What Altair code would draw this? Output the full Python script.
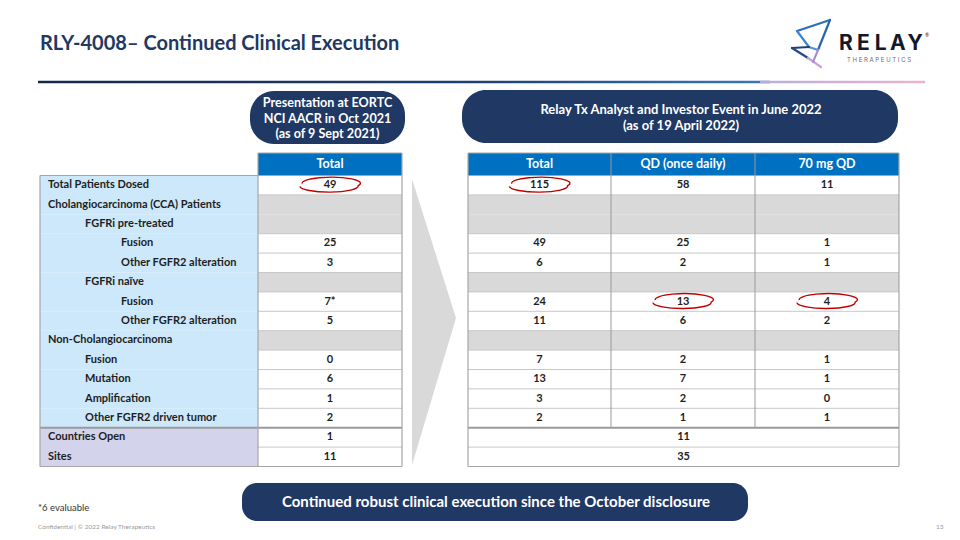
import altair as alt
import pandas as pd

# ---------------- data ----------------
title = "RLY-4008\u2013 Continued Clinical Execution"
row_labels = ["Total Patients Dosed", "Cholangiocarcinoma (CCA) Patients", "FGFRi pre-treated",
              "Fusion", "Other FGFR2 alteration", "FGFRi na\u00efve", "Fusion", "Other FGFR2 alteration",
              "Non-Cholangiocarcinoma", "Fusion", "Mutation", "Amplification",
              "Other FGFR2 driven tumor", "Countries Open", "Sites"]
row_indent = [0, 0, 1, 2, 2, 1, 2, 2, 0, 1, 1, 1, 1, 0, 0]
section_rows = [1, 2, 5, 8]
site_rows = [13, 14]
eortc_total = ["49", "", "", "25", "3", "", "7*", "5", "", "0", "6", "1", "2", "1", "11"]
june_total = ["115", "", "", "49", "6", "", "24", "11", "", "7", "13", "3", "2", "11", "35"]
june_qd = ["58", "", "", "25", "2", "", "13", "6", "", "2", "7", "2", "1", "", ""]
june_70mg = ["11", "", "", "1", "1", "", "4", "2", "", "1", "1", "0", "1", "", ""]
left_headers = ["Total"]
right_headers = ["Total", "QD (once daily)", "70 mg QD"]
left_pill = ["Presentation at EORTC", "NCI AACR in Oct 2021", "(as of 9 Sept 2021)"]
right_pill = ["Relay Tx Analyst and Investor Event in June 2022", "(as of 19 April 2022)"]
bottom_pill = "Continued robust clinical execution since the October disclosure"
highlight = [("left", 0, 0), ("right", 0, 0), ("right", 1, 6), ("right", 2, 6)]  # (table, col, row)
footnote = "*6 evaluable"
footer = "Confidential | \u00a9 2022 Relay Therapeutics"
page_no = "13"
logo_word = "RELAY"
logo_sub = "T H E R A P E U T I C S"

# ---------------- layout ----------------
FONT = "Lato"
NAVY = "#1F3864"
HEAD = "#0070C0"
GRID = "#C8C8C8"
BORDER = "#A6A6A6"
TXT = "#1E1E1E"

xs = alt.Scale(domain=[8, 952], nice=False, zero=False)
ys = alt.Scale(domain=[8, 532], nice=False, zero=False, reverse=True)

top0, rh = 175.5, 19.4
head_top = 153.0
n = len(row_labels)
bottom = top0 + n * rh
def rtop(i):
    return top0 + i * rh
def rmid(i):
    return top0 + i * rh + rh / 2

lab_x0, lab_x1 = 40, 258
lval_x1 = 402
r_edges = [468, 611, 755, 899]
indent_x = {0: 48, 1: 85, 2: 121}


def X(f="x"):
    return alt.X(f + ":Q", scale=xs, axis=None)


def Y(f="y"):
    return alt.Y(f + ":Q", scale=ys, axis=None)


def rects(rows, **mk):
    df = pd.DataFrame(rows, columns=["x", "x2", "y", "y2", "c"])
    return alt.Chart(df).mark_rect(**mk).encode(
        x=X(), x2="x2:Q", y=Y(), y2="y2:Q", fill=alt.Fill("c:N", scale=None))


def rules(rows, **mk):
    df = pd.DataFrame(rows, columns=["x", "x2", "y", "y2", "c", "w"])
    return alt.Chart(df).mark_rule(**mk).encode(
        x=X(), x2="x2:Q", y=Y(), y2="y2:Q", stroke=alt.Stroke("c:N", scale=None),
        strokeWidth=alt.StrokeWidth("w:Q", scale=None))


def texts(rows, **mk):
    df = pd.DataFrame(rows, columns=["x", "y", "t"])
    base = dict(font=FONT, baseline="middle")
    base.update(mk)
    return alt.Chart(df).mark_text(**base).encode(x=X(), y=Y(), text="t:N")


layers = []

# title + underline
layers.append(texts([(40, 44, title)], align="left", fontSize=20, fontWeight="bold", color=NAVY))
layers.append(alt.Chart(pd.DataFrame({"x": [38], "x2": [770], "y": [80.8], "y2": [83.2]})).mark_rect(
    fill=alt.Gradient(gradient="linear", x1=0, x2=1, y1=0, y2=0,
                      stops=[alt.GradientStop(color="#14284B", offset=0),
                             alt.GradientStop(color="#1F3F73", offset=0.6),
                             alt.GradientStop(color="#3C79B8", offset=1)])
).encode(x=X(), x2="x2:Q", y=Y(), y2="y2:Q"))
layers.append(alt.Chart(pd.DataFrame({"x": [760], "x2": [925], "y": [80.8], "y2": [83.2]})).mark_rect(
    fill=alt.Gradient(gradient="linear", x1=0, x2=1, y1=0, y2=0,
                      stops=[alt.GradientStop(color="#B9AEDB", offset=0),
                             alt.GradientStop(color="#EBB3CE", offset=1)])
).encode(x=X(), x2="x2:Q", y=Y(), y2="y2:Q"))

# logo
logo_segments = [
    (830, 797, 20, 31, "#2F6DB5", 2.2),
    (797, 809, 31, 47, "#3E84C9", 2.2),
    (830, 818, 20, 50, "#2A64AA", 2.2),
    (818, 809, 50, 47, "#5B8FD0", 2.2),
    (809, 792, 47, 48, "#1F3F7A", 2.2),
    (792, 808, 48, 58, "#26478A", 2.2),
    (808, 821, 58, 67, "#C7A3D8", 2.2),
    (818, 813, 50, 62, "#A88BD0", 2.0),
]
layers.append(rules(logo_segments, strokeCap="round"))
word = [(846 + 17.3 * k, 44, ch) for k, ch in enumerate(logo_word)]
layers.append(texts(word, align="center", fontSize=21, fontWeight="bold",
                    font="Inter", color="#15182A"))
layers.append(texts([(925, 35, "\u00ae")], align="left", fontSize=5, color="#15182A"))
layers.append(texts([(879, 59.5, logo_sub)], align="center", fontSize=6.0, font="Inter", color="#6A6A7A"))

# pills
pills = [(250, 405, 91, 144, NAVY), (462, 898, 90, 143, NAVY)]
layers.append(rects(pills, cornerRadius=24))
layers.append(rects([(242, 748, 483, 521, NAVY)], cornerRadius=15))
lp = [(327.5, 103 + 15.5 * i, t) for i, t in enumerate(left_pill)]
layers.append(texts(lp, align="center", fontSize=12.6, fontWeight="bold", color="white"))
rp = [(681, 110 + 16 * i, t) for i, t in enumerate(right_pill)]
layers.append(texts(rp, align="center", fontSize=13, fontWeight="bold", color="white"))
layers.append(texts([(496, 502, bottom_pill)], align="center", fontSize=15, fontWeight="bold", color="white"))

# arrow chevron
arrow = pd.DataFrame({"x": [412, 456], "y": [179, 318], "y2": [465, 318]})
layers.append(alt.Chart(arrow).mark_area(orient="vertical", color="#D9D9D9").encode(
    x=X(), y=Y(), y2="y2:Q"))

# cell fills
fills = []
for i in range(n):
    lab_c = "#D3D3EC" if i in site_rows else "#CCE8FA"
    fills.append((lab_x0, lab_x1, rtop(i), rtop(i) + rh, lab_c))
    val_c = "#D9D9D9" if i in section_rows else "#FFFFFF"
    fills.append((lab_x1, lval_x1, rtop(i), rtop(i) + rh, val_c))
    fills.append((r_edges[0], r_edges[-1], rtop(i), rtop(i) + rh, val_c))
fills.append((lab_x1, lval_x1, head_top, top0, HEAD))
fills.append((r_edges[0], r_edges[-1], head_top, top0, HEAD))
layers.append(rects(fills))

# grid lines
lines = []
for i in range(1, n):
    y = rtop(i)
    if i in section_rows and (i - 1) in section_rows:
        continue
    if i == site_rows[0]:
        lines.append((lab_x0, lval_x1, y, y, "#9A9A9A", 2))
        lines.append((r_edges[0], r_edges[-1], y, y, "#9A9A9A", 2))
    else:
        lines.append((lab_x1, lval_x1, y, y, GRID, 1))
        lines.append((r_edges[0], r_edges[-1], y, y, GRID, 1))
# outer borders
lines += [
    (lab_x0, lval_x1, top0, top0, BORDER, 1.2),
    (lab_x0, lval_x1, bottom, bottom, BORDER, 1.2),
    (lab_x0, lab_x0, top0, bottom, BORDER, 1.2),
    (lab_x1, lab_x1, head_top, bottom, BORDER, 1.2),
    (lval_x1, lval_x1, head_top, bottom, BORDER, 1.2),
    (lab_x1, lval_x1, head_top, head_top, BORDER, 1.2),
    (r_edges[0], r_edges[-1], head_top, head_top, BORDER, 1.2),
    (r_edges[0], r_edges[-1], top0, top0, BORDER, 1.2),
    (r_edges[0], r_edges[-1], bottom, bottom, BORDER, 1.2),
    (r_edges[0], r_edges[0], head_top, bottom, BORDER, 1.2),
    (r_edges[-1], r_edges[-1], head_top, bottom, BORDER, 1.2),
]
for xe in r_edges[1:-1]:
    lines.append((xe, xe, head_top, rtop(site_rows[0]), "#9A9A9A", 1))
layers.append(rules(lines))

# header texts
lv_c = (lab_x1 + lval_x1) / 2
r_c = [(r_edges[k] + r_edges[k + 1]) / 2 for k in range(3)]
hd = [(lv_c, (head_top + top0) / 2, left_headers[0])]
hd += [(r_c[k], (head_top + top0) / 2, right_headers[k]) for k in range(3)]
layers.append(texts(hd, align="center", fontSize=12.5, fontWeight="bold", color="white"))

# labels
lab = [(indent_x[row_indent[i]], rmid(i), row_labels[i]) for i in range(n)]
layers.append(texts(lab, align="left", fontSize=11, fontWeight="bold", color=TXT))

# values
vals = []
for i in range(n):
    vals.append((lv_c, rmid(i), eortc_total[i]))
    if i in site_rows:
        vals.append(((r_edges[0] + r_edges[-1]) / 2, rmid(i), june_total[i]))
    else:
        for k, col in enumerate([june_total, june_qd, june_70mg]):
            vals.append((r_c[k], rmid(i), col[i]))
layers.append(texts(vals, align="center", fontSize=11, fontWeight="bold", color=TXT))

# red ellipses
ell = []
for tbl, col, row in highlight:
    cx = lv_c if tbl == "left" else r_c[col]
    ell.append((cx - 1, rmid(row) + 0.5, ""))
ell_df = pd.DataFrame(ell, columns=["x", "y", "t"])
ell_path = "M -1 0.02 A 1 0.21 0 1 0 1 0 A 1 0.21 0 1 0 -0.92 -0.07"
layers.append(alt.Chart(ell_df).mark_point(shape=ell_path, filled=False, stroke="#C00000",
                                           strokeWidth=1.4, size=3400, opacity=1).encode(x=X(), y=Y()))

# footnotes
layers.append(texts([(38, 508, footnote)], align="left", fontSize=9.5, color="#333333"))
layers.append(texts([(38, 527, footer)], align="left", fontSize=6.5, color="#9A9A9A"))
layers.append(texts([(936, 527, page_no)], align="left", fontSize=6.5, color="#9A9A9A"))

chart = alt.layer(*layers).properties(width=944, height=524, padding=0, autosize="none",
                                      background="white").configure_view(stroke=None)
chart.save("out.html", embed_options={"renderer": "svg", "actions": False})
